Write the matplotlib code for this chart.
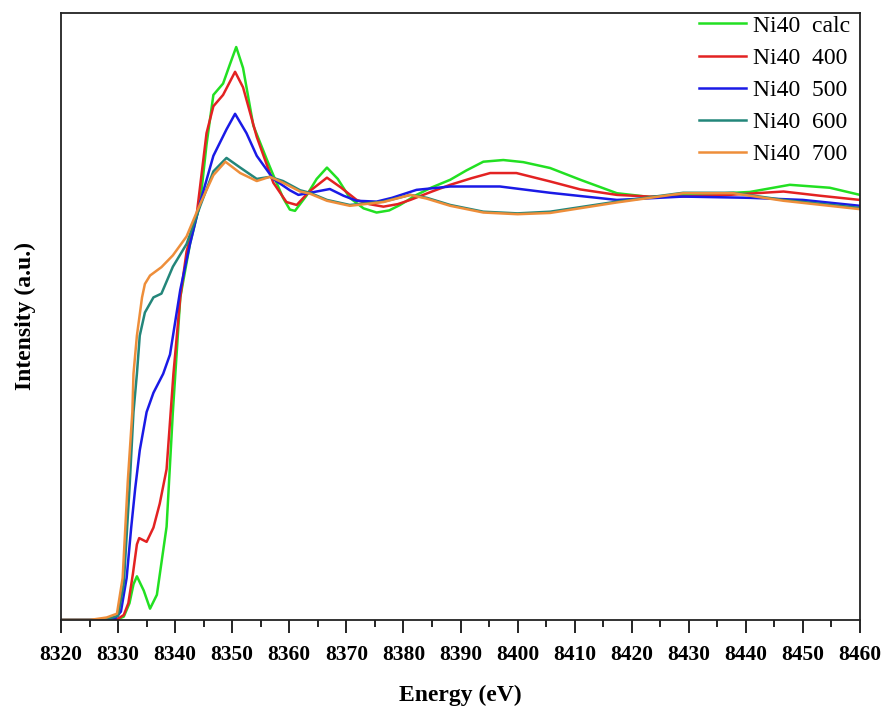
import numpy as np
import matplotlib
matplotlib.use('Agg')
from matplotlib import pyplot as plt
from matplotlib.ticker import MultipleLocator

# energies (eV) and normalized intensities
calc_e = [8320, 8328, 8330, 8331, 8332, 8332.7, 8333.3, 8334.5, 8335.6, 8336.8, 8338.5, 8339.6, 8340.9,
          8342.6, 8344.4, 8345.5, 8346.7, 8348.4, 8349.6, 8350.7, 8351.9, 8353.7, 8356.1, 8357.2, 8358.9,
          8360.1, 8361.0, 8363, 8364.8, 8366.6, 8368.5, 8370.6, 8373, 8375.3, 8377.5, 8379.4, 8382.3, 8385,
          8388.2, 8391, 8394, 8397.5, 8401, 8405.7, 8411, 8417.4, 8423.2, 8430, 8435, 8440.7, 8447.7,
          8454.7, 8460]
calc_i = [0, 0, 0.002, 0.008, 0.04, 0.085, 0.104, 0.07, 0.027, 0.06, 0.222, 0.495, 0.768,
          0.895, 0.995, 1.132, 1.25, 1.277, 1.323, 1.364, 1.314, 1.177, 1.095, 1.059, 1.005,
          0.977, 0.974, 1.01, 1.05, 1.077, 1.05, 1.005, 0.98, 0.97, 0.975, 0.988, 1.012, 1.03,
          1.048, 1.07, 1.091, 1.095, 1.09, 1.076, 1.048, 1.016, 1.007, 1.012, 1.015, 1.019, 1.036,
          1.029, 1.012]

s400_e = [8320, 8328, 8330, 8331, 8331.8, 8332.6, 8333.3, 8333.7, 8335.0, 8336.2, 8337.3, 8338.5, 8339.7,
          8340.9, 8342, 8343.8, 8345.5, 8346.7, 8348.4, 8350.5, 8351.9, 8354.3, 8357.2, 8359.5, 8361.3,
          8363.5, 8366.6, 8369, 8371.8, 8374, 8376.5, 8379, 8381.2, 8385, 8388.2, 8392, 8395.2, 8399.8,
          8405.7, 8411, 8417.4, 8423, 8429, 8437, 8446.6, 8453, 8460]
s400_i = [0, 0, 0.003, 0.012, 0.04, 0.11, 0.18, 0.195, 0.186, 0.22, 0.277, 0.359, 0.586,
          0.768, 0.877, 0.968, 1.159, 1.223, 1.25, 1.305, 1.268, 1.15, 1.041, 0.995, 0.988,
          1.02, 1.053, 1.03, 1.0, 0.99, 0.984, 0.99, 1.0, 1.02, 1.036, 1.052, 1.064, 1.064,
          1.044, 1.025, 1.012, 1.008, 1.008, 1.012, 1.02, 1.01, 1.0]

s500_e = [8320, 8327, 8329.5, 8330.5, 8331.5, 8332.3, 8333, 8333.8, 8335, 8336.2, 8337.9, 8339.1, 8340.9,
          8342.6, 8344.4, 8346.7, 8349, 8350.5, 8352.5, 8354.3, 8357.2, 8360.1, 8361.6, 8363.6, 8367.1,
          8369.5, 8371.8, 8375.3, 8378, 8382.3, 8388.2, 8396.9, 8405.7, 8417.4, 8429, 8440.7, 8450, 8460]
s500_i = [0, 0, 0.004, 0.02, 0.1, 0.22, 0.313, 0.404, 0.495, 0.541, 0.586, 0.632, 0.786,
          0.895, 0.995, 1.105, 1.168, 1.205, 1.159, 1.105, 1.05, 1.023, 1.012, 1.017, 1.026,
          1.01, 0.998, 0.996, 1.005, 1.024, 1.032, 1.032, 1.017, 1.0, 1.008, 1.005, 1.0, 0.986]

s600_e = [8320, 8326, 8328.5, 8330, 8331, 8332, 8332.7, 8333.3, 8333.8, 8334.7, 8336.2, 8337.6, 8339.6,
          8342, 8344.4, 8346.7, 8349, 8351.4, 8354.3, 8356.6, 8358.9, 8361.9, 8363.6, 8366.6, 8370.6,
          8376.5, 8381.2, 8384.1, 8388.2, 8394, 8400, 8405.7, 8417.4, 8429, 8437.8, 8446.6, 8460]
s600_i = [0, 0, 0.004, 0.01, 0.087, 0.313, 0.495, 0.586, 0.677, 0.732, 0.768, 0.777, 0.841,
          0.895, 0.986, 1.068, 1.1, 1.077, 1.05, 1.055, 1.045, 1.023, 1.017, 1.0, 0.988,
          0.996, 1.012, 1.005, 0.988, 0.972, 0.968, 0.972, 0.996, 1.017, 1.017, 1.0, 0.981]

s700_e = [8320, 8325, 8328, 8329.8, 8330.8, 8331.7, 8332.5, 8332.7, 8333.3, 8334.2, 8334.7, 8335.6, 8337.6,
          8339.6, 8342, 8344.4, 8346.7, 8348.8, 8351.4, 8354.3, 8356.6, 8358.9, 8361.9, 8363.6, 8366.6,
          8370.6, 8376.5, 8381.2, 8384.1, 8388.2, 8394, 8400, 8405.7, 8417.4, 8429, 8437.8, 8446.6, 8460]
s700_i = [0, 0, 0.006, 0.015, 0.1, 0.33, 0.495, 0.586, 0.677, 0.768, 0.8, 0.82, 0.84,
          0.868, 0.913, 0.991, 1.059, 1.091, 1.064, 1.045, 1.055, 1.041, 1.02, 1.015, 0.998,
          0.986, 0.995, 1.012, 1.003, 0.986, 0.97, 0.966, 0.969, 0.994, 1.016, 1.016, 0.998, 0.978]

labels = ['Ni40  calc', 'Ni40  400', 'Ni40  500', 'Ni40  600', 'Ni40  700']
colors = ['#22e022', '#e32222', '#1a1ae6', '#23867a', '#ee8e3a']

plt.rcParams['font.family'] = ['Liberation Serif', 'DejaVu Serif']

fig = plt.figure(figsize=(8.85, 7.11), dpi=100)
ax = fig.add_axes([61 / 885, 1 - 620 / 711, 799 / 885, 607 / 711])

series = [(calc_e, calc_i), (s400_e, s400_i), (s500_e, s500_i), (s600_e, s600_i), (s700_e, s700_i)]
for (e, i), lab, c in zip(series, labels, colors):
    ax.plot(e, i, color=c, lw=1.8, label=lab)

ax.set_xlim(8320, 8460)
ax.set_ylim(0, 1.445)
ax.xaxis.set_major_locator(MultipleLocator(10))
ax.xaxis.set_minor_locator(MultipleLocator(5))
ax.tick_params(axis='x', which='major', direction='out', length=9, width=1.2, pad=9, labelsize=15.5)
ax.tick_params(axis='x', which='minor', direction='out', length=5, width=1.2)
ax.set_yticks([])
for lbl in ax.get_xticklabels():
    lbl.set_fontweight('bold')
for sp in ax.spines.values():
    sp.set_linewidth(1.3)
    sp.set_color('#222222')

ax.set_xlabel('Energy (eV)', fontsize=17, fontweight='bold', labelpad=14)
ax.set_ylabel('Intensity (a.u.)', fontsize=17, fontweight='bold', labelpad=18)

ax.legend(loc='upper right', frameon=False, fontsize=17, handlelength=2.0, handletextpad=0.3,
          labelspacing=0.45, borderaxespad=0.0, bbox_to_anchor=(1.0, 1.012))

fig.savefig('out.png', dpi=100)
